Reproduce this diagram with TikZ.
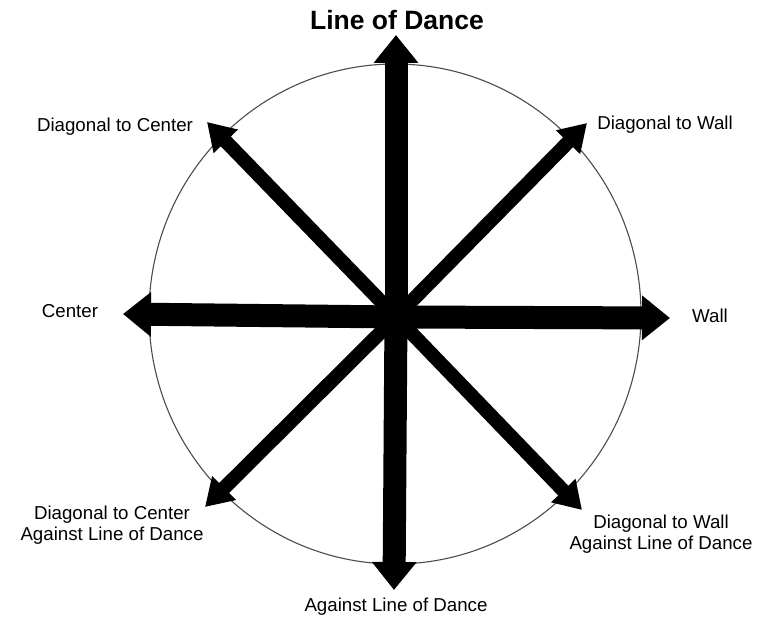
\documentclass[tikz,border=0pt]{standalone}
\usepackage{fontspec}
\setmainfont{Liberation Sans}
\usetikzlibrary{arrows.meta}
\begin{document}
\begin{tikzpicture}[x=1pt,y=-1pt,
  mainarrow/.style={line width=23pt,-{Triangle[width=43pt,length=28pt]}},
  diagarrow/.style={line width=14pt,-{Triangle[width=32pt,length=27pt]}},
  lbl/.style={font=\fontsize{18.7}{21.5}\selectfont,inner sep=0pt,anchor=base},
  ring/.style={draw=black!70,line width=1.1pt}]
\useasboundingbox (0,0) rectangle (772,617);
\fill[white] (0,0) rectangle (772,617);
\draw[ring] (395,314) ellipse [x radius=246, y radius=250];
\coordinate (o) at (396,317);
\coordinate (t) at (396,35);
\coordinate (b) at (394,590);
\coordinate (l) at (123,314);
\coordinate (r) at (670,318);
\coordinate (ul) at (207,122);
\coordinate (ur) at (587,123);
\coordinate (ll) at (205,507);
\coordinate (lr) at (582,510);
\draw[diagarrow] (o) -- (ul);
\draw[diagarrow] (o) -- (ur);
\draw[diagarrow] (o) -- (ll);
\draw[diagarrow] (o) -- (lr);
\draw[mainarrow] (o) -- (t);
\draw[mainarrow] (o) -- (b);
\draw[mainarrow] (o) -- (l);
\draw[mainarrow] (o) -- (r);
\node[lbl,font=\fontsize{26.5}{30}\selectfont\bfseries] (lod) at (397,30) {Line of Dance};
\node[lbl] (dc) at (115,132) {Diagonal to Center};
\node[lbl] (dw) at (665,130) {Diagonal to Wall};
\node[lbl] (c) at (70,318) {Center};
\node[lbl] (w) at (710,323) {Wall};
\node[lbl,align=center] (dcald) at (112,541) {Diagonal to Center\\Against Line of Dance};
\node[lbl,align=center] (dwald) at (661,550) {Diagonal to Wall\\Against Line of Dance};
\node[lbl] (ald) at (396,612) {Against Line of Dance};
\end{tikzpicture}
\end{document}
